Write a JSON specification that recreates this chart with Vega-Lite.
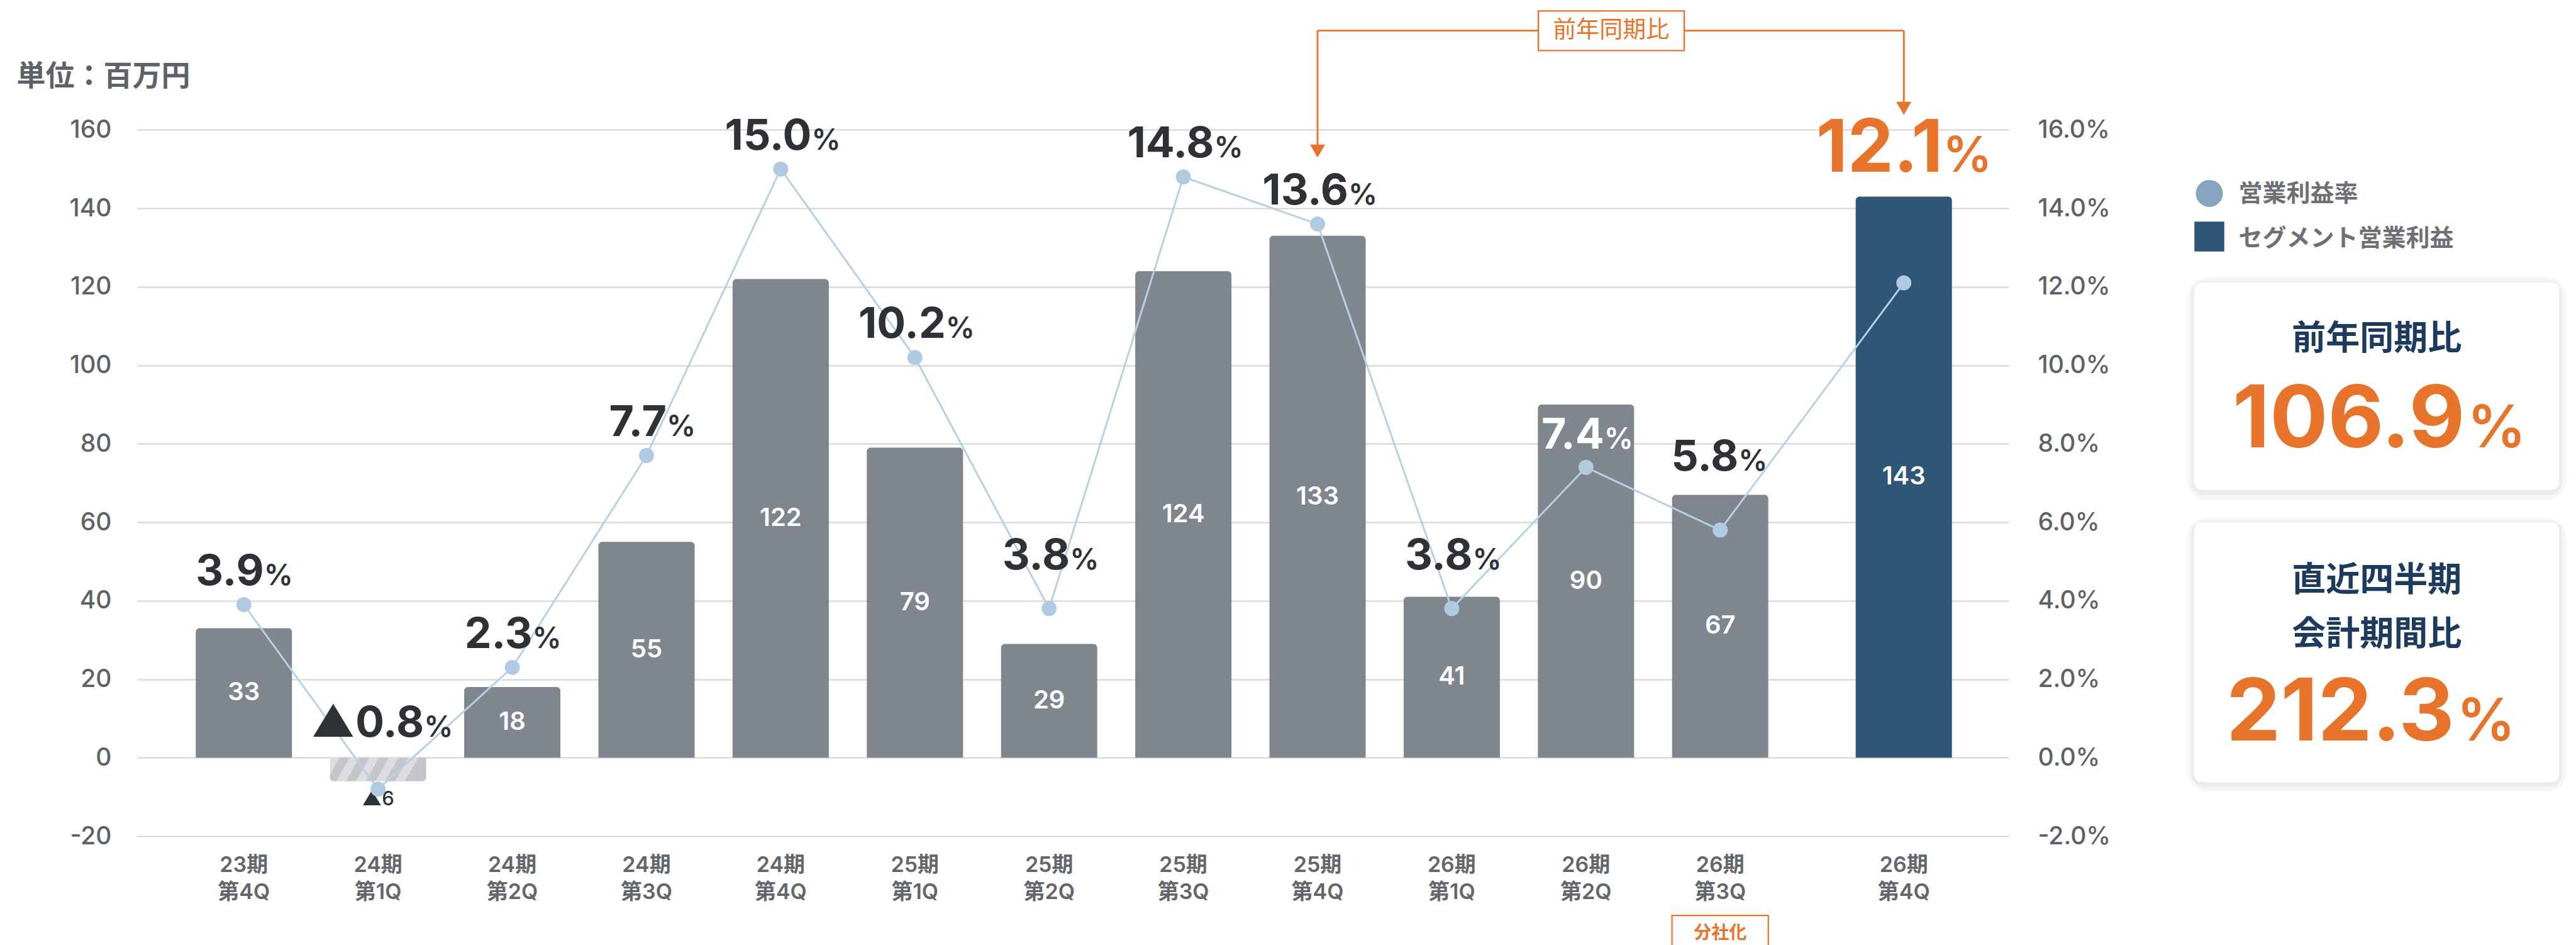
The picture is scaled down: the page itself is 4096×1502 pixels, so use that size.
{
"$schema": "https://vega.github.io/schema/vega-lite/v6.json",
"usermeta": {"embedOptions": {"actions": false}},
"width": 2976,
"height": 1502,
"autosize": {"type": "none"},
"padding": {"left": 218, "top": 0, "right": 902, "bottom": 0},
"background": "#ffffff",
"config": {"view": {"stroke": null}},
"data": {"values": [
{"idx":0,"ki":"23期","q":"第4Q","profit":33,"profitLabel":"33","rate":3.9,"rateLabel":"3.9"},
{"idx":1,"ki":"24期","q":"第1Q","profit":-6,"profitLabel":"▲6","rate":-0.8,"rateLabel":"▲0.8"},
{"idx":2,"ki":"24期","q":"第2Q","profit":18,"profitLabel":"18","rate":2.3,"rateLabel":"2.3"},
{"idx":3,"ki":"24期","q":"第3Q","profit":55,"profitLabel":"55","rate":7.7,"rateLabel":"7.7"},
{"idx":4,"ki":"24期","q":"第4Q","profit":122,"profitLabel":"122","rate":15.0,"rateLabel":"15.0"},
{"idx":5,"ki":"25期","q":"第1Q","profit":79,"profitLabel":"79","rate":10.2,"rateLabel":"10.2"},
{"idx":6,"ki":"25期","q":"第2Q","profit":29,"profitLabel":"29","rate":3.8,"rateLabel":"3.8"},
{"idx":7,"ki":"25期","q":"第3Q","profit":124,"profitLabel":"124","rate":14.8,"rateLabel":"14.8"},
{"idx":8,"ki":"25期","q":"第4Q","profit":133,"profitLabel":"133","rate":13.6,"rateLabel":"13.6"},
{"idx":9,"ki":"26期","q":"第1Q","profit":41,"profitLabel":"41","rate":3.8,"rateLabel":"3.8"},
{"idx":10,"ki":"26期","q":"第2Q","profit":90,"profitLabel":"90","rate":7.4,"rateLabel":"7.4"},
{"idx":11,"ki":"26期","q":"第3Q","profit":67,"profitLabel":"67","rate":5.8,"rateLabel":"5.8"},
{"idx":12,"ki":"26期","q":"第4Q","profit":143,"profitLabel":"143","rate":12.1,"rateLabel":"12.1"}
]},
"encoding": {"x": {"field": "idx", "type": "quantitative", "scale": {"domain": [-0.7955, 11, 12, 12.7818], "range": [0, 2517.2, 2809.2, 2976], "nice": false, "zero": false, "padding": 0}, "axis": null}},
"resolve": {"scale": {"y": "independent"}},
"layer": [
{"transform": [{"filter": "datum.profit > 0"}],
 "mark": {"type": "bar", "orient": "vertical", "width": 153, "cornerRadiusTopLeft": 6, "cornerRadiusTopRight": 6},
 "encoding": {
  "y": {"field": "profit", "type": "quantitative", "scale": {"domain": [-47.73, 193.09], "nice": false, "zero": false, "padding": 0},
   "axis": {"orient": "left", "values": [-20,0,20,40,60,80,100,120,140,160], "labelExpr": "(datum.value < 0 ? '-' : '') + format(abs(datum.value), 'd')", "grid": true, "gridColor": "#dadada", "gridWidth": 2.5, "domain": false, "ticks": false, "labelPadding": 41, "labelOverlap": false, "labelFont": "Inter", "labelFontSize": 39, "labelFontWeight": 500, "labelColor": "#5e6266",
    "title": "単位：百万円", "titleAngle": 0, "titleAlign": "left", "titleBaseline": "middle", "titleX": -192, "titleY": 121, "titleFont": "Noto Sans CJK JP", "titleFontSize": 46, "titleFontWeight": "bold", "titleColor": "#5e6266"}},
  "y2": {"datum": 0},
  "color": {"condition": {"test": "datum.idx == 12", "value": "#2e5677"}, "value": "#7f868e"}}},
{
"encoding": {"y": {"field": "profit", "type": "quantitative", "scale": {"domain": [-47.73, 193.09], "nice": false, "zero": false, "padding": 0}, "axis": null}},
"layer": [
 {"transform": [{"filter": "datum.profit < 0"}], "mark": {"type": "bar", "orient": "vertical", "width": 153, "cornerRadiusBottomLeft": 6, "cornerRadiusBottomRight": 6,
   "fill": {"gradient": "linear", "x1": 0, "y1": 0, "x2": 1, "y2": 0.14, "stops": [
    {"offset": 0, "color": "#dcdde0"}, {"offset": 0.1, "color": "#dcdde0"}, {"offset": 0.1, "color": "#c3c5c9"}, {"offset": 0.2, "color": "#c3c5c9"},
    {"offset": 0.2, "color": "#dcdde0"}, {"offset": 0.3, "color": "#dcdde0"}, {"offset": 0.3, "color": "#c3c5c9"}, {"offset": 0.4, "color": "#c3c5c9"},
    {"offset": 0.4, "color": "#dcdde0"}, {"offset": 0.5, "color": "#dcdde0"}, {"offset": 0.5, "color": "#c3c5c9"}, {"offset": 0.6, "color": "#c3c5c9"},
    {"offset": 0.6, "color": "#dcdde0"}, {"offset": 0.7, "color": "#dcdde0"}, {"offset": 0.7, "color": "#c3c5c9"}, {"offset": 0.8, "color": "#c3c5c9"},
    {"offset": 0.8, "color": "#dcdde0"}, {"offset": 0.9, "color": "#dcdde0"}, {"offset": 0.9, "color": "#c3c5c9"}, {"offset": 1, "color": "#c3c5c9"}]}},
   "encoding": {"y2": {"datum": 0}}},
 {"transform": [{"filter": "datum.profit > 0"}], "mark": {"type": "text", "baseline": "middle", "font": "Inter", "fontSize": 40, "fontWeight": 600, "color": "#ffffff"},
   "encoding": {"y": {"field": "profit", "type": "quantitative", "stack": "zero", "bandPosition": 0.5, "axis": null}, "text": {"field": "profitLabel"}}},
 {"transform": [{"filter": "datum.profit < 0"}], "mark": {"type": "text", "baseline": "middle", "dy": 29, "font": "Inter, 'Noto Sans CJK JP'", "fontSize": 31, "fontWeight": 500, "color": "#2e3135"},
   "encoding": {"text": {"field": "profitLabel"}}},
 {"mark": {"type": "text", "baseline": "middle", "font": "Inter, 'Noto Sans CJK JP'", "fontSize": 34, "fontWeight": 600, "color": "#63666a"},
   "encoding": {"y": {"datum": -27.45, "type": "quantitative", "axis": null}, "text": {"field": "ki"}}},
 {"mark": {"type": "text", "baseline": "middle", "font": "Inter, 'Noto Sans CJK JP'", "fontSize": 34, "fontWeight": 600, "color": "#63666a"},
   "encoding": {"y": {"datum": -34.45, "type": "quantitative", "axis": null}, "text": {"field": "q"}}},
 {"transform": [{"filter": "datum.idx == 0"}], "mark": {"type": "rule", "color": "#e8742b", "strokeWidth": 2.9},
   "encoding": {"x": {"datum": 8, "type": "quantitative"}, "x2": {"datum": 12}, "y": {"datum": 185.3, "type": "quantitative", "axis": null}}},
 {"transform": [{"filter": "datum.idx == 0"}], "mark": {"type": "rule", "color": "#e8742b", "strokeWidth": 2.9},
   "encoding": {"x": {"datum": 8, "type": "quantitative"}, "y": {"datum": 185.3, "type": "quantitative", "axis": null}, "y2": {"datum": 154.6}}},
 {"transform": [{"filter": "datum.idx == 0"}], "mark": {"type": "rule", "color": "#e8742b", "strokeWidth": 2.9},
   "encoding": {"x": {"datum": 12, "type": "quantitative"}, "y": {"datum": 185.3, "type": "quantitative", "axis": null}, "y2": {"datum": 165.5}}},
 {"transform": [{"filter": "datum.idx == 0"}], "mark": {"type": "point", "shape": "triangle-down", "filled": true, "size": 576, "color": "#e8742b", "opacity": 1},
   "encoding": {"x": {"datum": 8, "type": "quantitative"}, "y": {"datum": 154.6, "type": "quantitative", "axis": null}}},
 {"transform": [{"filter": "datum.idx == 0"}], "mark": {"type": "point", "shape": "triangle-down", "filled": true, "size": 576, "color": "#e8742b", "opacity": 1},
   "encoding": {"x": {"datum": 12, "type": "quantitative"}, "y": {"datum": 165.5, "type": "quantitative", "axis": null}}},
 {"transform": [{"filter": "datum.idx == 0"}], "mark": {"type": "rect", "fill": "#ffffff", "stroke": "#e8742b", "strokeWidth": 2.4},
   "encoding": {"x": {"datum": 9.645, "type": "quantitative"}, "x2": {"datum": 10.732}, "y": {"datum": 190.3, "type": "quantitative", "axis": null}, "y2": {"datum": 180.2}}},
 {"transform": [{"filter": "datum.idx == 0"}], "mark": {"type": "text", "text": "前年同期比", "baseline": "middle", "font": "Noto Sans CJK JP", "fontSize": 37, "color": "#e8742b"},
   "encoding": {"x": {"datum": 10.187, "type": "quantitative"}, "y": {"datum": 185.3, "type": "quantitative", "axis": null}}},
 {"transform": [{"filter": "datum.idx == 0"}], "mark": {"type": "rect", "fill": "#ffffff", "stroke": "#e8742b", "strokeWidth": 2.2},
   "encoding": {"x": {"datum": 10.641, "type": "quantitative"}, "x2": {"datum": 11.262}, "y": {"datum": -40.2, "type": "quantitative", "axis": null}, "y2": {"datum": -52}}},
 {"transform": [{"filter": "datum.idx == 0"}], "mark": {"type": "text", "text": "分社化", "baseline": "middle", "font": "Noto Sans CJK JP", "fontSize": 28, "fontWeight": "bold", "color": "#e8742b"},
   "encoding": {"x": {"datum": 11, "type": "quantitative"}, "y": {"datum": -44.87, "type": "quantitative", "axis": null}}},
 {"transform": [{"filter": "datum.idx == 0"}], "mark": {"type": "point", "shape": "circle", "filled": true, "size": 1847, "color": "#86a3bf", "opacity": 1},
   "encoding": {"x": {"datum": 14.277, "type": "quantitative"}, "y": {"datum": 143.8, "type": "quantitative", "axis": null}}},
 {"transform": [{"filter": "datum.idx == 0"}], "mark": {"type": "point", "shape": "square", "filled": true, "size": 2256, "color": "#2e5677", "opacity": 1},
   "encoding": {"x": {"datum": 14.277, "type": "quantitative"}, "y": {"datum": 132.8, "type": "quantitative", "axis": null}}},
 {"transform": [{"filter": "datum.idx == 0"}], "mark": {"type": "text", "text": "営業利益率", "align": "left", "baseline": "middle", "font": "Noto Sans CJK JP", "fontSize": 38, "fontWeight": "bold", "color": "#6d7074"},
   "encoding": {"x": {"datum": 14.495, "type": "quantitative"}, "y": {"datum": 143.6, "type": "quantitative", "axis": null}}},
 {"transform": [{"filter": "datum.idx == 0"}], "mark": {"type": "text", "text": "セグメント営業利益", "align": "left", "baseline": "middle", "font": "Noto Sans CJK JP", "fontSize": 38, "fontWeight": "bold", "color": "#6d7074"},
   "encoding": {"x": {"datum": 14.495, "type": "quantitative"}, "y": {"datum": 132.1, "type": "quantitative", "axis": null}}},
 {"transform": [{"filter": "datum.idx == 0"}], "mark": {"type": "rect", "fillOpacity": 0, "stroke": "#000000", "strokeOpacity": 0.035, "strokeWidth": 22, "cornerRadius": 22},
   "encoding": {"x": {"datum": 14.163, "type": "quantitative"}, "x2": {"datum": 16.886}, "y": {"datum": 120.6, "type": "quantitative", "axis": null}, "y2": {"datum": 67.4}}},
 {"transform": [{"filter": "datum.idx == 0"}], "mark": {"type": "rect", "fillOpacity": 0, "stroke": "#000000", "strokeOpacity": 0.04, "strokeWidth": 9, "cornerRadius": 16},
   "encoding": {"x": {"datum": 14.163, "type": "quantitative"}, "x2": {"datum": 16.886}, "y": {"datum": 120.8, "type": "quantitative", "axis": null}, "y2": {"datum": 67.6}}},
 {"transform": [{"filter": "datum.idx == 0"}], "mark": {"type": "rect", "fill": "#ffffff", "stroke": "#eeeeee", "strokeWidth": 1, "cornerRadius": 12.6},
   "encoding": {"x": {"datum": 14.163, "type": "quantitative"}, "x2": {"datum": 16.886}, "y": {"datum": 121.2, "type": "quantitative", "axis": null}, "y2": {"datum": 68.2}}},
 {"transform": [{"filter": "datum.idx == 0"}], "mark": {"type": "text", "text": "前年同期比", "baseline": "middle", "font": "Noto Sans CJK JP", "fontSize": 54, "fontWeight": "bold", "color": "#1d3b5c"},
   "encoding": {"x": {"datum": 15.525, "type": "quantitative"}, "y": {"datum": 106.45, "type": "quantitative", "axis": null}}},
 {"transform": [{"filter": "datum.idx == 0"}], "mark": {"type": "text", "text": "106.9", "align": "right", "baseline": "alphabetic", "font": "Inter", "fontSize": 137, "fontWeight": "bold", "color": "#e8742b"},
   "encoding": {"x": {"datum": 16.182, "type": "quantitative"}, "y": {"datum": 79.08, "type": "quantitative", "axis": null}}},
 {"transform": [{"filter": "datum.idx == 0"}], "mark": {"type": "text", "text": "%", "align": "left", "baseline": "alphabetic", "font": "Inter", "fontSize": 93, "fontWeight": 600, "color": "#e8742b"},
   "encoding": {"x": {"datum": 16.2, "type": "quantitative"}, "y": {"datum": 79.08, "type": "quantitative", "axis": null}}},
 {"transform": [{"filter": "datum.idx == 0"}], "mark": {"type": "rect", "fillOpacity": 0, "stroke": "#000000", "strokeOpacity": 0.035, "strokeWidth": 22, "cornerRadius": 22},
   "encoding": {"x": {"datum": 14.163, "type": "quantitative"}, "x2": {"datum": 16.886}, "y": {"datum": 59.5, "type": "quantitative", "axis": null}, "y2": {"datum": -6.9}}},
 {"transform": [{"filter": "datum.idx == 0"}], "mark": {"type": "rect", "fillOpacity": 0, "stroke": "#000000", "strokeOpacity": 0.04, "strokeWidth": 9, "cornerRadius": 16},
   "encoding": {"x": {"datum": 14.163, "type": "quantitative"}, "x2": {"datum": 16.886}, "y": {"datum": 59.7, "type": "quantitative", "axis": null}, "y2": {"datum": -6.7}}},
 {"transform": [{"filter": "datum.idx == 0"}], "mark": {"type": "rect", "fill": "#ffffff", "stroke": "#eeeeee", "strokeWidth": 1, "cornerRadius": 12.6},
   "encoding": {"x": {"datum": 14.163, "type": "quantitative"}, "x2": {"datum": 16.886}, "y": {"datum": 60.1, "type": "quantitative", "axis": null}, "y2": {"datum": -6.3}}},
 {"transform": [{"filter": "datum.idx == 0"}], "mark": {"type": "text", "text": "直近四半期", "baseline": "middle", "font": "Noto Sans CJK JP", "fontSize": 54, "fontWeight": "bold", "color": "#1d3b5c"},
   "encoding": {"x": {"datum": 15.525, "type": "quantitative"}, "y": {"datum": 45.02, "type": "quantitative", "axis": null}}},
 {"transform": [{"filter": "datum.idx == 0"}], "mark": {"type": "text", "text": "会計期間比", "baseline": "middle", "font": "Noto Sans CJK JP", "fontSize": 54, "fontWeight": "bold", "color": "#1d3b5c"},
   "encoding": {"x": {"datum": 15.525, "type": "quantitative"}, "y": {"datum": 31.18, "type": "quantitative", "axis": null}}},
 {"transform": [{"filter": "datum.idx == 0"}], "mark": {"type": "text", "text": "212.3", "align": "right", "baseline": "alphabetic", "font": "Inter", "fontSize": 137, "fontWeight": "bold", "color": "#e8742b"},
   "encoding": {"x": {"datum": 16.104, "type": "quantitative"}, "y": {"datum": 4.43, "type": "quantitative", "axis": null}}},
 {"transform": [{"filter": "datum.idx == 0"}], "mark": {"type": "text", "text": "%", "align": "left", "baseline": "alphabetic", "font": "Inter", "fontSize": 93, "fontWeight": 600, "color": "#e8742b"},
   "encoding": {"x": {"datum": 16.12, "type": "quantitative"}, "y": {"datum": 4.43, "type": "quantitative", "axis": null}}}
]
},
{
"encoding": {"y": {"field": "rate", "type": "quantitative", "scale": {"domain": [-4.773, 19.309], "nice": false, "zero": false, "padding": 0},
  "axis": {"orient": "right", "values": [-2,0,2,4,6,8,10,12,14,16], "labelExpr": "(datum.value < 0 ? '-' : '') + format(abs(datum.value), '.1f') + '%'", "grid": false, "domain": false, "ticks": false, "labelPadding": 46, "labelOverlap": false, "labelFont": "Inter", "labelFontSize": 39, "labelFontWeight": 500, "labelColor": "#5e6266", "title": null}}},
"layer": [
 {"mark": {"type": "line", "color": "#b6d0e4", "strokeWidth": 3}, "encoding": {}},
 {"mark": {"type": "circle", "size": 573, "color": "#b0cbe1", "opacity": 1}},
 {"transform": [{"filter": "indexof([4,5,7,8], datum.idx) >= 0"}],
  "layer": [
   {"mark": {"type": "text", "align": "right", "baseline": "alphabetic", "dx": 49, "dy": -31, "font": "Inter", "fontSize": 68, "fontWeight": "bold", "color": "#2e3135"}, "encoding": {"text": {"field": "rateLabel"}}},
   {"mark": {"type": "text", "text": "%", "align": "left", "baseline": "alphabetic", "dx": 49, "dy": -31, "font": "Inter", "fontSize": 46, "fontWeight": 600, "color": "#2e3135"}}
  ]},
 {"transform": [{"filter": "indexof([0,2,3], datum.idx) >= 0"}],
  "layer": [
   {"mark": {"type": "text", "align": "right", "baseline": "alphabetic", "dx": 32, "dy": -31, "font": "Inter", "fontSize": 68, "fontWeight": "bold", "color": "#2e3135"}, "encoding": {"text": {"field": "rateLabel"}}},
   {"mark": {"type": "text", "text": "%", "align": "left", "baseline": "alphabetic", "dx": 32, "dy": -31, "font": "Inter", "fontSize": 46, "fontWeight": 600, "color": "#2e3135"}}
  ]},
 {"transform": [{"filter": "datum.idx == 10"}],
  "layer": [
   {"mark": {"type": "text", "align": "right", "baseline": "alphabetic", "dx": 29, "dy": -30, "font": "Inter", "fontSize": 68, "fontWeight": "bold", "color": "#ffffff"}, "encoding": {"text": {"field": "rateLabel"}}},
   {"mark": {"type": "text", "text": "%", "align": "left", "baseline": "alphabetic", "dx": 29, "dy": -30, "font": "Inter", "fontSize": 46, "fontWeight": 600, "color": "#ffffff"}}
  ]},
 {"transform": [{"filter": "indexof([6,9], datum.idx) >= 0"}],
  "layer": [
   {"mark": {"type": "text", "align": "right", "baseline": "alphabetic", "dx": 33, "dy": -62, "font": "Inter", "fontSize": 68, "fontWeight": "bold", "color": "#2e3135"}, "encoding": {"text": {"field": "rateLabel"}}},
   {"mark": {"type": "text", "text": "%", "align": "left", "baseline": "alphabetic", "dx": 33, "dy": -62, "font": "Inter", "fontSize": 46, "fontWeight": 600, "color": "#2e3135"}}
  ]}
]
},
{
"encoding": {"y": {"field": "profit", "type": "quantitative", "scale": {"domain": [-47.73, 193.09], "nice": false, "zero": false, "padding": 0}, "axis": null}},
"layer": [
 {"transform": [{"filter": "datum.idx == 11"}],
  "layer": [
   {"mark": {"type": "text", "align": "right", "baseline": "alphabetic", "dx": 29, "dy": -38, "font": "Inter", "fontSize": 68, "fontWeight": "bold", "color": "#2e3135"}, "encoding": {"text": {"field": "rateLabel"}}},
   {"mark": {"type": "text", "text": "%", "align": "left", "baseline": "alphabetic", "dx": 29, "dy": -38, "font": "Inter", "fontSize": 46, "fontWeight": 600, "color": "#2e3135"}}
  ]},
 {"transform": [{"filter": "datum.idx == 1"}],
  "encoding": {"y": {"datum": 0, "type": "quantitative", "axis": null}},
  "layer": [
   {"mark": {"type": "text", "align": "right", "baseline": "alphabetic", "dx": 73, "dy": -33, "font": "Inter, 'Noto Sans CJK JP'", "fontSize": 68, "fontWeight": "bold", "color": "#2e3135"}, "encoding": {"text": {"field": "rateLabel"}}},
   {"mark": {"type": "text", "text": "%", "align": "left", "baseline": "alphabetic", "dx": 73, "dy": -33, "font": "Inter", "fontSize": 46, "fontWeight": 600, "color": "#2e3135"}}
  ]},
 {"transform": [{"filter": "datum.idx == 12"}],
  "layer": [
   {"mark": {"type": "text", "align": "right", "baseline": "alphabetic", "dx": 62, "dy": -39, "font": "Inter", "fontSize": 116, "fontWeight": "bold", "color": "#e8742b"}, "encoding": {"text": {"field": "rateLabel"}}},
   {"mark": {"type": "text", "text": "%", "align": "left", "baseline": "alphabetic", "dx": 62, "dy": -39, "font": "Inter", "fontSize": 78, "fontWeight": 600, "color": "#e8742b"}}
  ]}
]
}
]
}
